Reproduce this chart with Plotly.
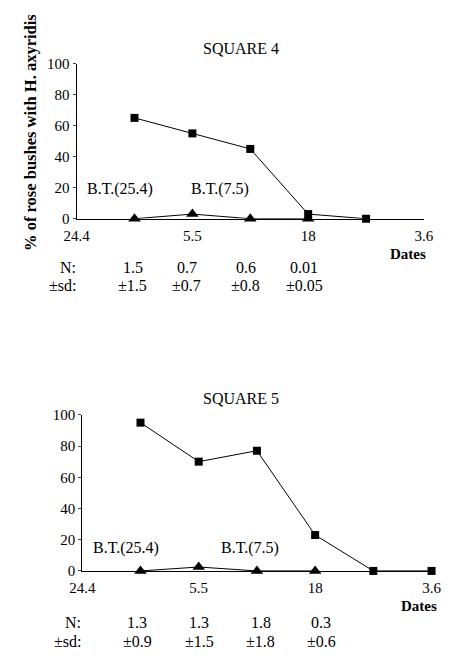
import plotly.graph_objects as go

W, H = 452, 656

# ---- data ----
date_ticks = ["24.4", "5.5", "18", "3.6"]
tick_pos = [0, 2, 4, 6]

sq4_x = [1, 2, 3, 4, 5]
sq4_sq = [65, 55, 45, 3, 0]
sq4_tri_x = [1, 2, 3, 4]
sq4_tri = [0, 3, 0, 0]
sq4_N = ["1.5", "0.7", "0.6", "0.01"]
sq4_sd = ["±1.5", "±0.7", "±0.8", "±0.05"]

sq5_x = [1, 2, 3, 4, 5, 6]
sq5_sq = [95, 70, 77, 23, 0, 0]
sq5_tri_x = [1, 2, 3, 4]
sq5_tri = [0, 2.5, 0, 0]
sq5_N = ["1.3", "1.3", "1.8", "0.3"]
sq5_sd = ["±0.9", "±1.5", "±1.8", "±0.6"]

FONT = "Liberation Serif"

def px_x(p):
    return p / W

def px_y(p):
    return 1 - p / H

fig = go.Figure()

panels = [
    dict(xa="x", ya="y", xs=sq4_x, sq=sq4_sq, tx=sq4_tri_x, tri=sq4_tri),
    dict(xa="x2", ya="y2", xs=sq5_x, sq=sq5_sq, tx=sq5_tri_x, tri=sq5_tri),
]
for p in panels:
    fig.add_trace(go.Scatter(x=p["tx"], y=p["tri"], xaxis=p["xa"], yaxis=p["ya"],
                             mode="lines+markers", cliponaxis=False,
                             line=dict(color="black", width=1),
                             marker=dict(symbol="triangle-up", size=11, color="black"),
                             showlegend=False))
    fig.add_trace(go.Scatter(x=p["xs"], y=p["sq"], xaxis=p["xa"], yaxis=p["ya"],
                             mode="lines+markers", cliponaxis=False,
                             line=dict(color="black", width=1),
                             marker=dict(symbol="square", size=8, color="black"),
                             showlegend=False))

axis_common = dict(showgrid=False, zeroline=False, showline=True, linecolor="black",
                   linewidth=1, tickfont=dict(family=FONT, size=15, color="black"))

fig.update_layout(
    width=W, height=H, margin=dict(l=0, r=0, t=0, b=0),
    paper_bgcolor="white", plot_bgcolor="white",
    xaxis=dict(domain=[px_x(67), px_x(433)], anchor="y", range=[0, 6],
               tickvals=tick_pos, ticktext=date_ticks, ticks="", ticklabelstandoff=3, **axis_common),
    yaxis=dict(domain=[px_y(216), px_y(57)], anchor="x", range=[0, 100],
               tickvals=[0, 20, 40, 60, 80, 100], ticks="outside", ticklen=3, **axis_common),
    xaxis2=dict(domain=[px_x(73), px_x(441)], anchor="y2", range=[0, 6],
                tickvals=tick_pos, ticktext=date_ticks, ticks="", ticklabelstandoff=3, **axis_common),
    yaxis2=dict(domain=[px_y(577), px_y(417)], anchor="x2", range=[0, 100],
                tickvals=[0, 20, 40, 60, 80, 100], ticks="outside", ticklen=3, **axis_common),
)

ann = []
def txt(x, y, s, size=16, bold=False, xanchor="center", angle=0):
    ann.append(dict(x=px_x(x), y=px_y(y), xref="paper", yref="paper", text=(f"<b>{s}</b>" if bold else s),
                    showarrow=False, xanchor=xanchor, yanchor="middle", textangle=angle,
                    font=dict(family=FONT, size=size, color="black")))

# titles
txt(240, 42, "SQUARE 4")
txt(240, 400, "SQUARE 5")
# y axis title
txt(19, 128, "% of rose bushes with H. axyridis", size=16.5, bold=True, angle=-90)
# Dates labels
txt(437, 252, "Dates", size=15, bold=True, xanchor="right")
txt(449, 613, "Dates", size=15, bold=True, xanchor="right")
# B.T. annotations
txt(113, 186, "B.T.(25.4)")
txt(218, 186, "B.T.(7.5)")
txt(119, 553, "B.T.(25.4)")
txt(250, 553, "B.T.(7.5)")
# N / sd rows
txt(69, 266, "N:", xanchor="right")
txt(69, 284, "±sd:", xanchor="right")
for xc, n, s in zip([126, 183, 245, 307], sq4_N, sq4_sd):
    txt(xc, 266, n)
    txt(xc, 284, s)
txt(74, 630, "N:", xanchor="right")
txt(74, 649, "±sd:", xanchor="right")
for xc, n, s in zip([131, 196, 261, 325], sq5_N, sq5_sd):
    txt(xc, 630, n)
    txt(xc, 649, s)

fig.update_layout(annotations=ann)
fig.write_html("out.html")
